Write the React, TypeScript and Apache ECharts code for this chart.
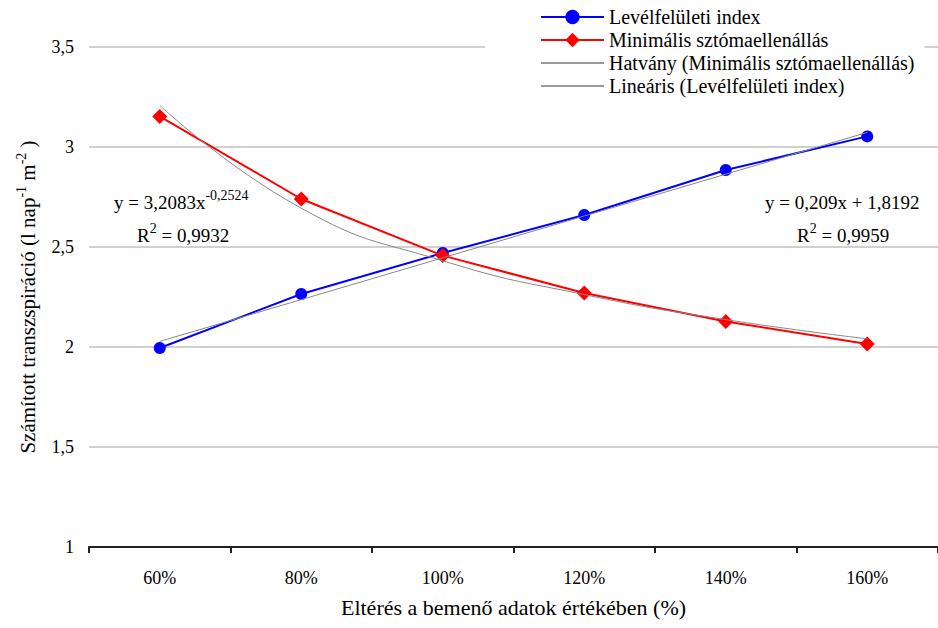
import React, { useEffect, useRef } from "react";
import * as echarts from "echarts";

const categories = ["60%", "80%", "100%", "120%", "140%", "160%"];
const leafAreaIndex = [1.995, 2.265, 2.47, 2.66, 2.885, 3.053];
const minStomatalResistance = [3.153, 2.74, 2.457, 2.27, 2.128, 2.015];
const powerTrend = [3.208, 2.694, 2.431, 2.262, 2.137, 2.041];
const linearTrend = [2.028, 2.237, 2.446, 2.655, 2.864, 3.073];
const seriesNames = [
  "Levélfelületi index",
  "Minimális sztómaellenállás",
  "Hatvány (Minimális sztómaellenállás)",
  "Lineáris (Levélfelületi index)",
];

const FONT = "'Liberation Serif', 'Times New Roman', serif";

export default function App() {
  const ref = useRef<HTMLDivElement>(null);
  useEffect(() => {
    const chart = echarts.init(ref.current!, null, { renderer: "svg" });
    const supRich = {
      a: { fontFamily: FONT, fontSize: 19, color: "#000", lineHeight: 24, verticalAlign: "bottom" },
      s: { fontFamily: FONT, fontSize: 14, color: "#000", lineHeight: 24, verticalAlign: "top" },
    };
    const nameRich = {
      a: { fontFamily: FONT, fontSize: 21, color: "#000", lineHeight: 24, verticalAlign: "bottom" },
      s: { fontFamily: FONT, fontSize: 14, color: "#000", lineHeight: 24, verticalAlign: "top" },
    };
    chart.setOption({
      animation: false,
      backgroundColor: "#fff",
      textStyle: { fontFamily: FONT },
      grid: { left: 89, right: -6, top: 47, bottom: 81, containLabel: false },
      legend: {
        orient: "vertical",
        left: 485,
        top: 0,
        padding: [7, 10, 6, 55],
        backgroundColor: "#fff",
        itemWidth: 63,
        itemHeight: 18,
        itemGap: 3,
        data: [
          { name: seriesNames[0] },
          { name: seriesNames[1] },
          { name: seriesNames[2], itemStyle: { opacity: 0 }, lineStyle: { color: "#9a9a9a" } },
          { name: seriesNames[3], itemStyle: { opacity: 0 }, lineStyle: { color: "#9a9a9a" } },
        ],
        textStyle: { fontFamily: FONT, fontSize: 20, color: "#000" },
      },
      xAxis: {
        type: "category",
        data: categories,
        boundaryGap: true,
        axisLine: { lineStyle: { color: "#222", width: 2 } },
        axisTick: { show: true, alignWithLabel: false, length: 6, lineStyle: { color: "#222", width: 2 } },
        axisLabel: { fontFamily: FONT, fontSize: 18, color: "#000", margin: 22 },
        splitLine: { show: false },
        name: "Eltérés a bemenő adatok értékében (%)",
        nameLocation: "middle",
        nameGap: 49,
        nameTextStyle: { fontFamily: FONT, fontSize: 22, color: "#000" },
      },
      yAxis: {
        type: "value",
        min: 1,
        max: 3.5,
        interval: 0.5,
        axisLine: { show: false },
        axisTick: { show: false },
        axisLabel: {
          fontFamily: FONT,
          fontSize: 18,
          color: "#000",
          margin: 15,
          formatter: (v: number) => String(v).replace(".", ","),
        },
        splitLine: { lineStyle: { color: "#c0c0c0", width: 1.5 } },
        name: "{a|Számított transzspiráció (l nap}{s|-1}{a| m}{s|-2}{a| )}",
        nameLocation: "middle",
        nameGap: 51,
        nameTextStyle: { fontFamily: FONT, rich: nameRich },
      },
      series: [
        {
          name: seriesNames[0],
          type: "line",
          data: leafAreaIndex,
          color: "#0000ff",
          lineStyle: { width: 2, color: "#0000ff" },
          symbol: "circle",
          symbolSize: 12,
          itemStyle: { color: "#0000ff" },
          z: 3,
        },
        {
          name: seriesNames[1],
          type: "line",
          data: minStomatalResistance,
          color: "#ff0000",
          lineStyle: { width: 2, color: "#ff0000" },
          symbol: "diamond",
          symbolSize: 15,
          itemStyle: { color: "#ff0000" },
          z: 4,
        },
        {
          name: seriesNames[2],
          type: "line",
          data: powerTrend,
          smooth: 0.5,
          color: "#888888",
          lineStyle: { width: 1, color: "#888888" },
          symbol: "none",
          z: 5,
        },
        {
          name: seriesNames[3],
          type: "line",
          data: linearTrend,
          color: "#888888",
          lineStyle: { width: 1, color: "#888888" },
          symbol: "none",
          z: 5,
        },
      ],
      graphic: [
        {
          type: "text",
          x: 114,
          y: 188,
          z: 10,
          style: { text: "{a|y = 3,2083x}{s|-0,2524}", rich: supRich },
        },
        {
          type: "text",
          x: 137,
          y: 221,
          z: 10,
          style: { text: "{a|R}{s|2}{a| = 0,9932}", rich: supRich },
        },
        {
          type: "text",
          x: 765,
          y: 188,
          z: 10,
          style: { text: "{a|y = 0,209x + 1,8192}", rich: supRich },
        },
        {
          type: "text",
          x: 797,
          y: 221,
          z: 10,
          style: { text: "{a|R}{s|2}{a| = 0,9959}", rich: supRich },
        },
      ],
    });
    return () => chart.dispose();
  }, []);
  return <div ref={ref} style={{ width: 938, height: 628, position: "absolute", left: 0, top: 0 }} />;
}
